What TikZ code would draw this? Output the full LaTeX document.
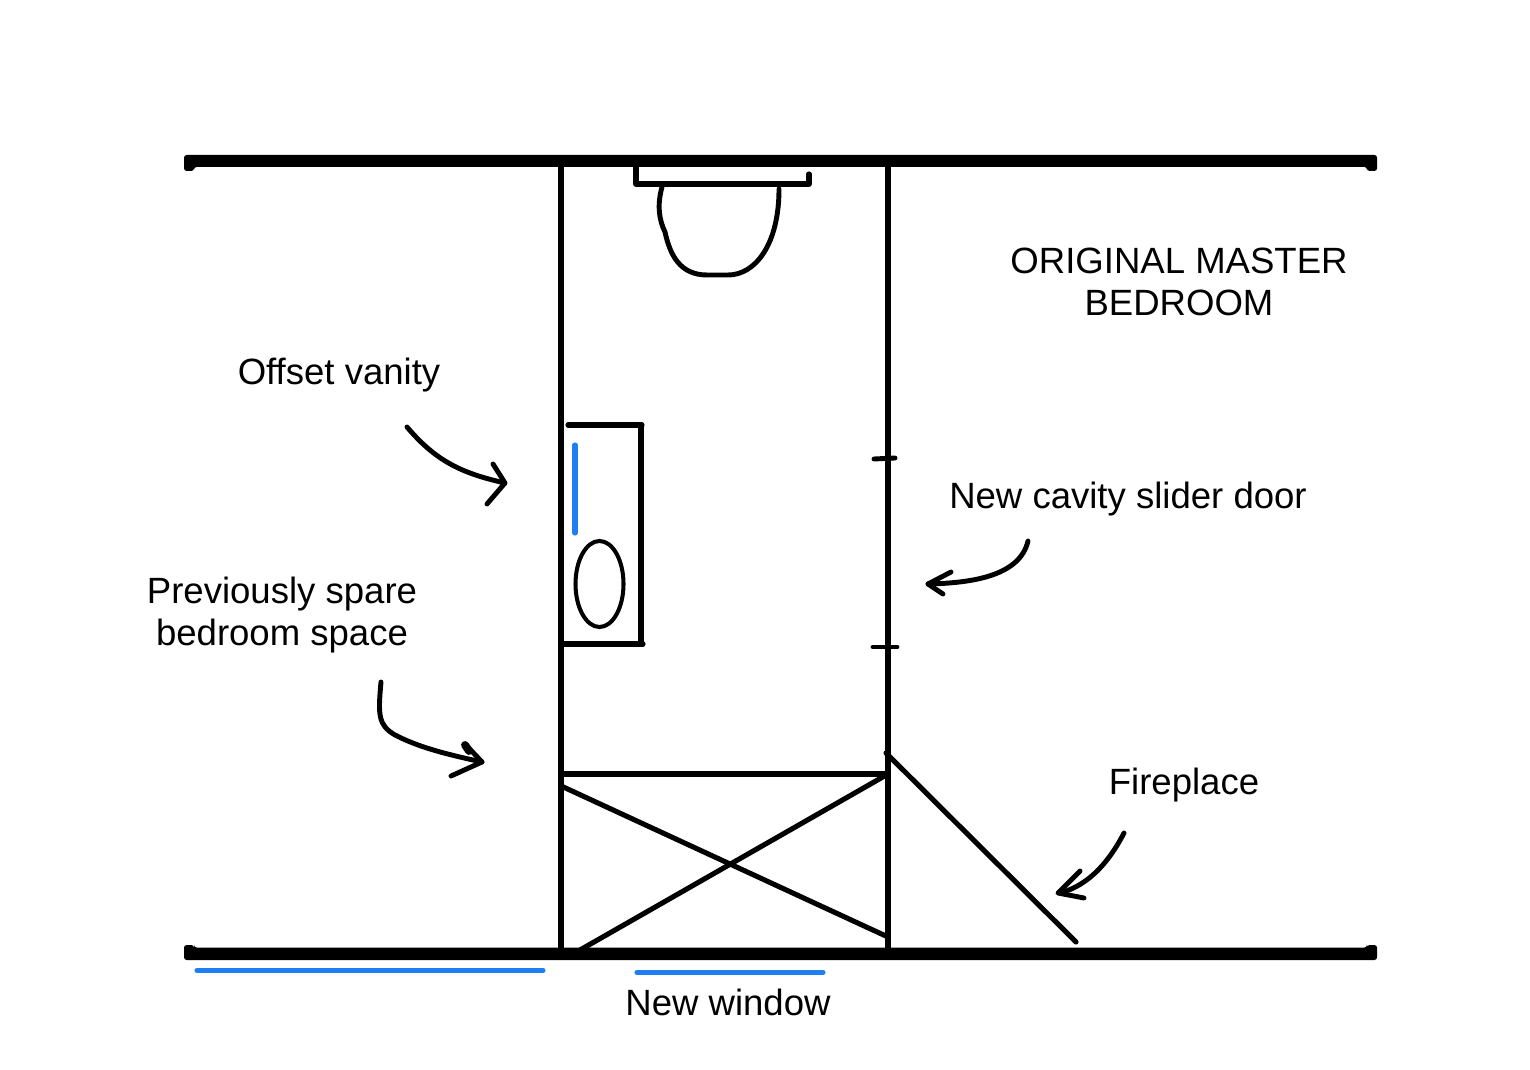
\documentclass[tikz,border=0pt]{standalone}
\usepackage{fontspec}
\setmainfont{Liberation Sans}
\usetikzlibrary{calc}
\definecolor{markblue}{HTML}{1F7FF0}
\tikzset{
  planline/.style={line width=2.9pt},
  fineline/.style={line width=2.3pt},
  markline/.style={line width=2.9pt,markblue,line cap=round},
  handline/.style={line width=2.8pt,line cap=round,line join=round},
  planlabel/.style={font=\fontsize{20.8}{23.9}\selectfont,align=center,inner sep=0pt}
}
\newcommand{\wallbar}[3]{
  \fill[rounded corners=1.5pt] (184,#3) -- (184,#1) -- (1377,#1) -- (1377,#3)
    -- (1367,#3) -- (1367,#2) -- (194,#2) -- (194,#3) -- cycle;
}
\newcommand{\handarrow}[3]{
  \draw[handline] #1;% Draw the shaft
  \draw[handline] #2 -- #3;% Draw the head
}
\begin{document}
\begin{tikzpicture}[x=0.02cm,y=-0.02cm]
  \useasboundingbox (0,0) rectangle (1530,1070);

  \wallbar{155}{167}{171}
  \wallbar{960}{947.5}{945}

  \draw[planline] (561,166) -- (561,950);
  \draw[planline] (888,166) -- (888,950);
  \draw[planline] (561,774) -- (888,774);
  \draw[planline] (559,785) -- (888,937);
  \draw[planline] (888,774) -- (580,950);
  \draw[planline,line cap=round] (886,753) -- (1076,942);

  % cistern and bowl
  \draw[planline,line cap=round,line join=round] (636,167) -- (636,184) -- (809,184) -- (809,174);
  \draw[handline] (662,187) .. controls (657,205) and (659,220) .. (665,232)
    .. controls (670,255) and (680,275) .. (707,275) -- (728,275)
    .. controls (755,275) and (779,245) .. (779,189);

  % vanity
  \draw[planline,line cap=round] (568,425) -- (642,425);
  \draw[planline] (641,425) -- (641,643);
  \draw[planline,line cap=round] (562,644) -- (643,644);
  \draw[fineline] (599.5,584) ellipse (24 and 43);
  \draw[markline] (575,445) -- (575,533);

  % slider door stops
  \draw[handline] (874,459) -- (895,458);
  \draw[handline] (873,647) -- (897,647);

  % windows
  \draw[markline] (197,970.5) -- (543,970.5);
  \draw[markline] (637,972.5) -- (823,972.5);

  \handarrow{(407,427) .. controls (435,460) and (460,473) .. (505,483)}{(493,464) -- (505,483)}{(487,504)}
  \handarrow{(381,682) .. controls (378,715) and (378,725) .. (395,735) .. controls (420,748) and (450,755) .. (482,762)}{(466,745) -- (482,762)}{(451,776)}
  \draw[handline,line width=4.5pt] (465,745) -- (469,751);
  \handarrow{(1028,541) .. controls (1020,575) and (975,583) .. (928,584)}{(951,572) -- (928,584)}{(943,594)}
  \handarrow{(1124,833) .. controls (1110,860) and (1090,885) .. (1060,893)}{(1080,871) -- (1058,893)}{(1084,898)}

  \node[planlabel] (masterlabel) at (1179,282) {ORIGINAL MASTER\\BEDROOM};
  \node[planlabel] (vanitylabel) at (339,375) {Offset vanity};
  \node[planlabel] (sliderlabel) at (1128,499) {New cavity slider door};
  \node[planlabel] (sparelabel) at (282,615) {Previously spare\\bedroom space};
  \node[planlabel] (fireplacelabel) at (1184,785) {Fireplace};
  \node[planlabel] (windowlabel) at (728,1002) {New window};
\end{tikzpicture}
\end{document}
